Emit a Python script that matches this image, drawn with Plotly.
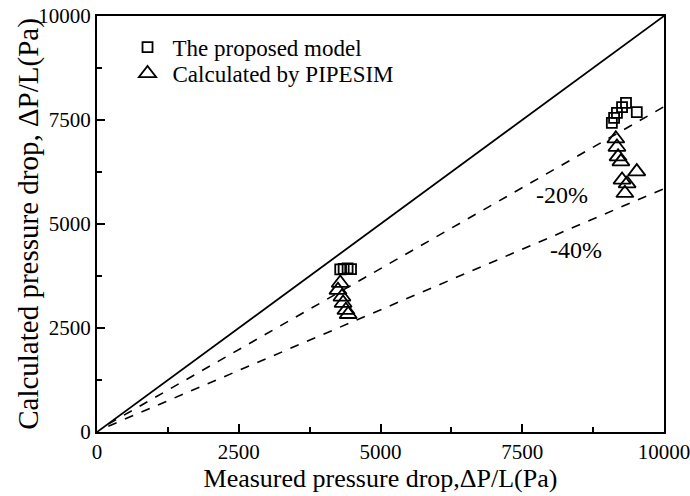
import plotly.graph_objects as go

# Data
model_x = [4290, 4350, 4420, 4480, 9080, 9120, 9170, 9260, 9330, 9520]
model_y = [3910, 3920, 3930, 3915, 7430, 7550, 7670, 7810, 7910, 7690]

pipesim_x = [4290, 4250, 4320, 4340, 4390, 4430,
             9150, 9170, 9190, 9240, 9520, 9260, 9350, 9310]
pipesim_y = [3580, 3410, 3250, 3100, 2930, 2830,
             7050, 6850, 6620, 6500, 6260, 6060, 5970, 5740]

ref_x = [0, 10000]
ref_y = [0, 10000]
minus20_x = [200, 10000]
minus20_y = [190, 7820]
minus40_x = [200, 10000]
minus40_y = [140, 5850]

tick_vals = [0, 2500, 5000, 7500, 10000]
tick_text = ["0", "2500", "5000", "7500", "10000"]
minor_vals = [1250, 3750, 6250, 8750]

font_family = "Liberation Serif"

fig = go.Figure()
fig.add_trace(go.Scatter(x=ref_x, y=ref_y, mode="lines",
                         line=dict(color="black", width=1.8), showlegend=False))
fig.add_trace(go.Scatter(x=minus20_x, y=minus20_y, mode="lines",
                         line=dict(color="black", width=1.6, dash="dash"), showlegend=False))
fig.add_trace(go.Scatter(x=minus40_x, y=minus40_y, mode="lines",
                         line=dict(color="black", width=1.6, dash="dash"), showlegend=False))
fig.add_trace(go.Scatter(x=model_x, y=model_y, mode="markers", name="The proposed model",
                         legend="legend",
                         marker=dict(symbol="square-open", size=10, color="black",
                                     line=dict(width=1.8))))
fig.add_trace(go.Scatter(x=pipesim_x, y=pipesim_y, mode="markers", name="Calculated by PIPESIM",
                         legend="legend2",
                         marker=dict(symbol="triangle-up-open", size=15, color="black",
                                     line=dict(width=1.8))))

fig.add_annotation(x=8200, y=5700, text="-20%", showarrow=False,
                   font=dict(family=font_family, size=24, color="black"))
fig.add_annotation(x=8450, y=4380, text="-40%", showarrow=False,
                   font=dict(family=font_family, size=24, color="black"))

# y-axis title
fig.add_annotation(xref="paper", yref="paper", x=-0.122, y=0.5,
                   xanchor="center", yanchor="middle",
                   text="Calculated pressure drop, ΔP/L(Pa)", textangle=-90,
                   showarrow=False,
                   font=dict(family=font_family, size=29, color="black"))

axis_common = dict(
    range=[0, 10000],
    tickvals=tick_vals,
    ticktext=tick_text,
    ticks="inside", ticklen=8, tickwidth=1.5, tickcolor="black",
    minor=dict(tickvals=minor_vals, ticks="inside", ticklen=5,
               tickwidth=1.5, tickcolor="black"),
    showline=True, linecolor="black", linewidth=2, mirror=True,
    showgrid=False, zeroline=False, automargin=False,
    ticklabeloverflow="allow",
    tickfont=dict(family=font_family, size=21, color="black"),
)

fig.update_xaxes(**axis_common,
                 title=dict(text="Measured pressure drop,ΔP/L(Pa)",
                            font=dict(family=font_family, size=26, color="black"),
                            standoff=4))
fig.update_yaxes(**axis_common)

legend_common = dict(xanchor="left", yanchor="middle",
                     bgcolor="rgba(0,0,0,0)",
                     font=dict(family=font_family, size=23, color="black"),
                     itemwidth=40)

fig.update_layout(
    width=690, height=496,
    margin=dict(l=97, r=26, t=16, b=64),
    paper_bgcolor="white", plot_bgcolor="white",
    legend=dict(x=0.045, y=0.925, **legend_common),
    legend2=dict(x=0.045, y=0.862, **legend_common),
)

fig.write_html("out.html")
